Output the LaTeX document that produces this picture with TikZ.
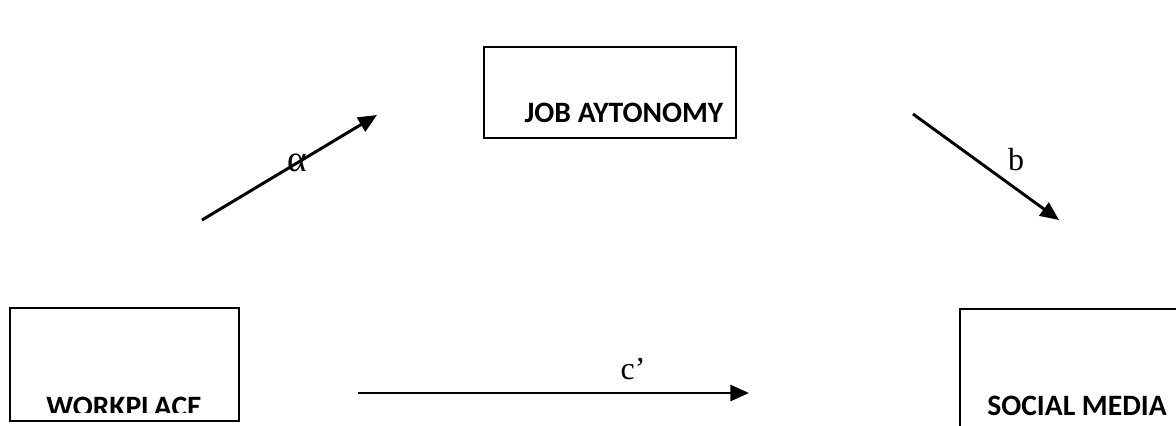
\documentclass[tikz,border=0pt]{standalone}
\usepackage{fontspec}
\setmainfont{Liberation Serif}
\newfontfamily\boxfont{Carlito}
\usetikzlibrary{arrows.meta}

\begin{document}
\begin{tikzpicture}[x=0.75pt,y=-0.75pt,
    varbox/.style={draw, line width=1.3pt, inner sep=0pt},
    vartext/.style={anchor=base, font=\boxfont\bfseries\fontsize{22.2}{26}\selectfont},
    path/.style={line width=2.2pt, -{Triangle[length=14pt,width=12pt]}},
    coef/.style={font=\fontsize{24}{28}\selectfont, inner sep=0pt}]
    % keep the page the size of the reference
    \useasboundingbox (0,0) rectangle (1176,425);
    \clip (0,0) rectangle (1176,425);

    % Draw the three boxes
    \node[varbox, minimum width=189pt, minimum height=68.25pt] (jobbox) at (610,92.5) {};
    \node[varbox, minimum width=171.75pt, minimum height=84.75pt] (workbox) at (124.5,364.5) {};
    \node[varbox, minimum width=195pt, minimum height=120.75pt] (socialbox) at (1090,389.5) {};

    % Box texts
    \node[vartext] (job) at (624,122) {JOB AYTONOMY};
    \begin{scope}
        \clip (10,308) rectangle (239,412); % text runs past the frame
        \node[vartext] (work) at (124,416) {WORKPLACE};
    \end{scope}
    \node[vartext] (social) at (1077,415) {SOCIAL MEDIA};

    % Draw the paths
    \coordinate (a1) at (202,220);
    \coordinate (a2) at (377,115);
    \coordinate (b1) at (913,114);
    \coordinate (b2) at (1059,220);
    \coordinate (c1) at (358,393);
    \coordinate (c2) at (749,393);
    \draw[path] (a1) -- (a2);
    \draw[path] (b1) -- (b2);
    \draw[path] (c1) -- (c2);

    % Path labels
    \node[coef, font=\fontsize{28}{32}\selectfont] (alpha) at (297,163) {α};
    \node[coef] (blabel) at (1016,160) {b};
    \node[coef] (clabel) at (633,369) {c’};
\end{tikzpicture}
\end{document}
